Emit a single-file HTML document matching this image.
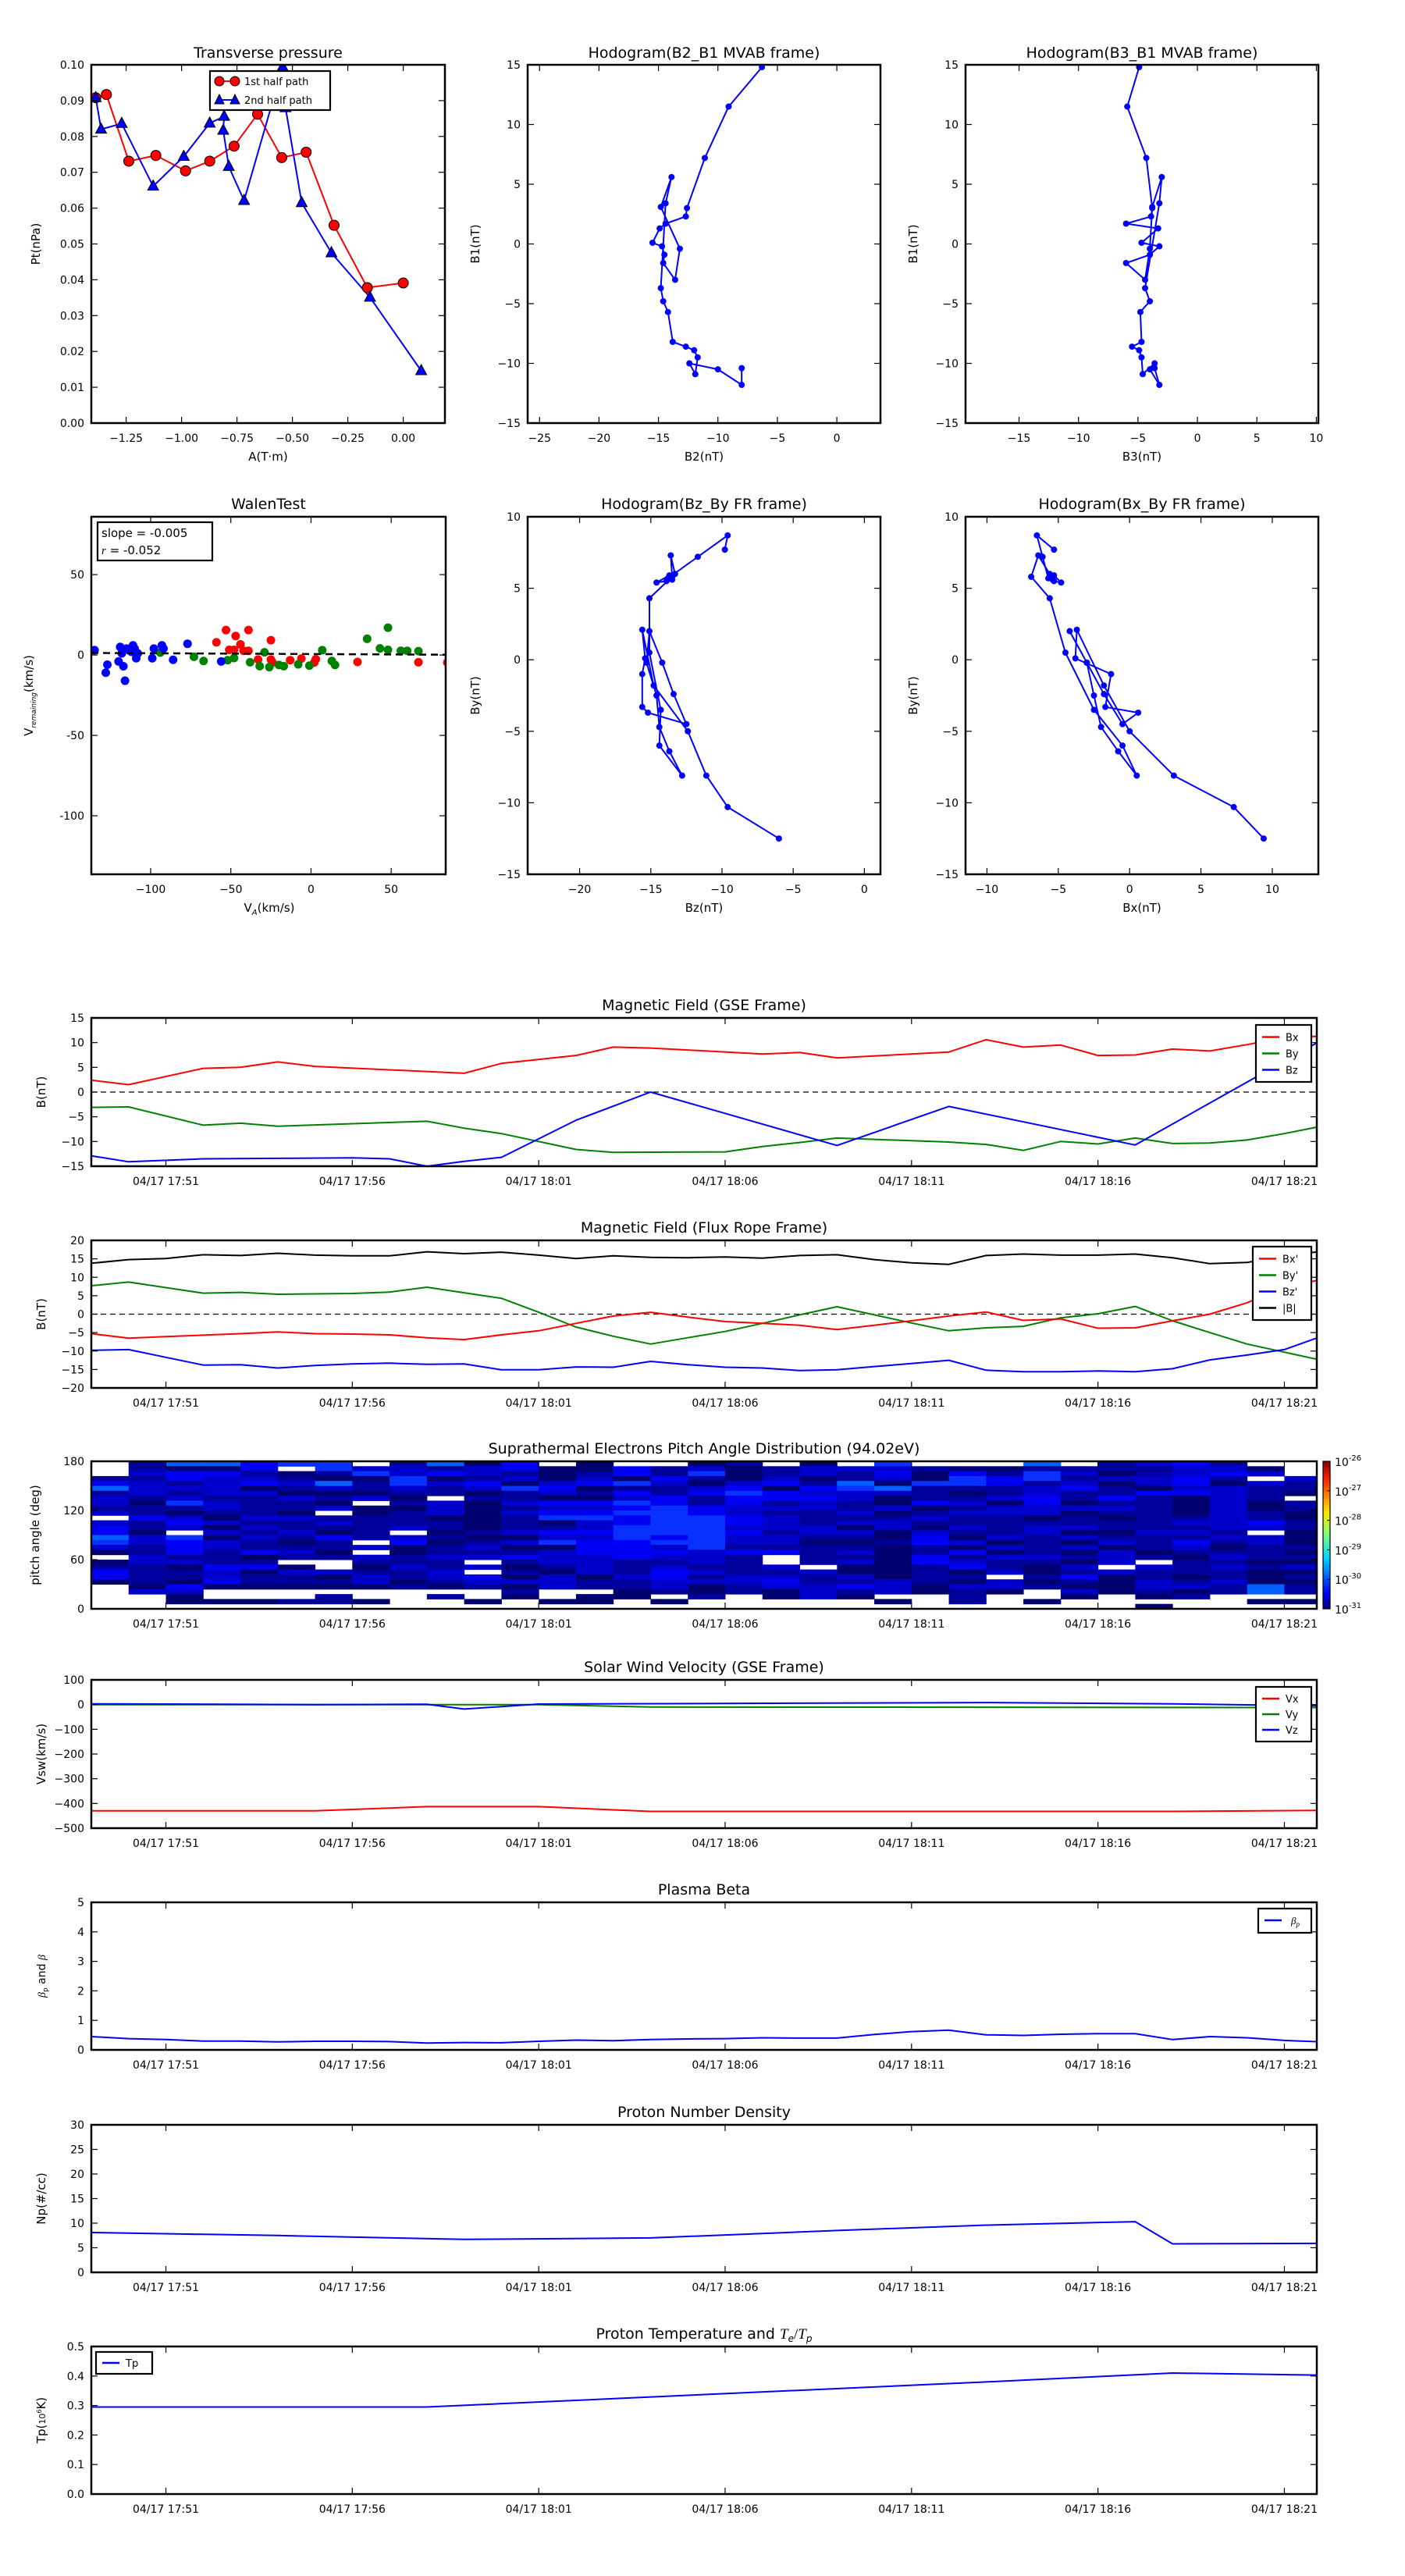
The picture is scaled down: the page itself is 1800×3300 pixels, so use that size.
<!DOCTYPE html>
<html><head><meta charset="utf-8"><title>Flux rope analysis</title>
<style>
html,body{margin:0;padding:0;background:#fff;}
svg{display:block;font-family:"DejaVu Sans","Liberation Sans",sans-serif;}
</style></head>
<body>
<svg id="chart" width="1800" height="3300" viewBox="0 0 1800 3300" xmlns="http://www.w3.org/2000/svg">
<defs>
<linearGradient id="jet" x1="0" y1="1" x2="0" y2="0">
<stop offset="0" stop-color="#00007f"/><stop offset="0.11" stop-color="#0000ff"/>
<stop offset="0.35" stop-color="#00d8ff"/><stop offset="0.5" stop-color="#7dff7a"/>
<stop offset="0.65" stop-color="#ffe600"/><stop offset="0.89" stop-color="#ff1a00"/>
<stop offset="1" stop-color="#7f0000"/>
</linearGradient>
</defs>
</svg>
<script>
// ---------- Data ----------
const a1 = [-1.387,-1.339,-1.238,-1.116,-0.982,-0.873,-0.763,-0.657,-0.548,-0.438,-0.312,-0.162,0.0];
const p1 = [0.0908,0.0917,0.0731,0.0747,0.0704,0.0731,0.0773,0.0862,0.0741,0.0756,0.0552,0.0378,0.0391];
const a2 = [-1.387,-1.363,-1.27,-1.128,-0.990,-0.873,-0.808,-0.812,-0.787,-0.718,-0.544,-0.531,-0.458,-0.324,-0.150,0.081];
const p2 = [0.0908,0.082,0.0836,0.0661,0.0744,0.0837,0.0856,0.0817,0.0716,0.0621,0.0994,0.088,0.0615,0.0475,0.0351,0.0146];
const mvB1 = [14.8,11.5,7.2,3.0,2.3,1.7,1.3,0.1,-0.2,-0.9,-1.6,-3.0,-0.4,3.1,5.6,3.4,-3.7,-4.8,-5.7,-8.2,-8.6,-8.9,-9.5,-10.9,-10.0,-10.5,-11.8,-10.4];
const mvB2 = [-6.3,-9.1,-11.1,-12.6,-12.7,-14.4,-14.9,-15.5,-14.7,-14.5,-14.6,-13.6,-13.2,-14.8,-13.9,-14.4,-14.8,-14.6,-14.2,-13.8,-12.7,-12.0,-11.7,-11.9,-12.4,-10.0,-8.0,-8.0];
const mvB3 = [-4.9,-5.9,-4.3,-3.8,-3.9,-6.0,-3.3,-4.7,-3.2,-4.0,-6.0,-4.4,-4.0,-3.8,-3.0,-3.2,-4.4,-4.0,-4.8,-4.7,-5.5,-4.9,-4.7,-4.6,-3.6,-4.0,-3.2,-3.6];
const waBlueVA = [-135,-127,-128,-120,-119,-118,-117,-116,-115,-113,-112,-111,-110,-109,-108,-99,-98,-93,-92,-86,-77,-56];
const waBlueVR = [3,-6,-11,-4,5,1,-7,-16,4,3,2,6,4,-2,1,-2,4,6,4,-3,7,-4];
const waRedVA = [-53,-39,-47,-59,-25,-44,-51,-48,-42,-39,-33,-25,-13,-6,3,2,29,67,85,-24];
const waRedVR = [15.5,15.5,11.8,7.9,9.2,6.6,3.2,3.2,2.6,2.6,-2.8,-2.8,-3.2,-2.2,-2.6,-4.7,-4.3,-4.5,-4.7,-4.7];
const waGreenVA = [-94,-73,-67,-52,-48,-38,-32,-29,-26,-20,-17,-8,-1,7,13,15,35,43,48,48,56,60,67];
const waGreenVR = [1.5,-1.1,-3.7,-3.2,-1.9,-4.5,-6.9,1.7,-7.5,-6.2,-6.9,-5.8,-6.6,3.0,-3.7,-6.2,10.1,4.1,17.0,3.2,2.6,2.6,2.4];
const walenSlope = -0.005, walenIntercept = 0.6;
const tickMinutes = [2,7,12,17,22,27,32];
const tickLabels = ['04/17 17:51','04/17 17:56','04/17 18:01','04/17 18:06','04/17 18:11','04/17 18:16','04/17 18:21'];
const tMin = [0,1,2,3,4,5,6,7,8,9,10,11,12,13,14,15,16,17,18,19,20,21,22,23,24,25,26,27,28,29,30,31,32,33];
const tBx = [0,1,3,4,5,6,10,11,13,14,15,18,19,20,23,24,25,26,27,28,29,30,31,32,33];
const gseBx = [2.4,1.5,4.8,5.0,6.1,5.2,3.8,5.8,7.4,9.1,8.9,7.7,8.0,6.9,8.1,10.6,9.1,9.5,7.4,7.5,8.7,8.3,9.6,11.0,11.3];
const tBy = [0,1,3,4,5,9,10,11,13,14,17,18,19,20,23,24,25,26,27,28,29,30,31,32,33];
const gseBy = [-3.1,-3.0,-6.7,-6.3,-6.9,-5.9,-7.3,-8.4,-11.6,-12.2,-12.1,-11,-10.2,-9.3,-10.1,-10.6,-11.8,-10,-10.5,-9.3,-10.4,-10.3,-9.7,-8.4,-6.9];
const tBz = [0,1,3,5,7,8,9,10,11,13,15,20,23,28,33];
const gseBz = [-12.9,-14.1,-13.5,-13.4,-13.3,-13.5,-15,-14,-13.2,-5.7,0,-10.8,-2.9,-10.7,10.5];
const frBx = [-5.3,-6.5,-6.1,-5.7,-5.3,-4.8,-5.3,-5.4,-5.6,-6.4,-6.9,-5.6,-4.5,-2.5,-0.5,0.5,-0.8,-2.0,-2.5,-3.0,-4.2,-3.0,-1.8,-0.5,0.6,-1.7,-1.3,-3.8,-3.7,-1.8,0.0,3.1,7.3,9.4];
const frBy = [7.7,8.7,7.2,5.7,5.9,5.4,5.5,5.6,6.0,7.3,5.8,4.3,0.5,-3.5,-6.0,-8.1,-6.4,-4.7,-2.5,-0.2,2.0,-0.2,-2.4,-4.5,-3.7,-3.3,-1.0,0.1,2.1,-1.8,-5.0,-8.1,-10.3,-12.5];
const frBz = [-9.8,-9.6,-11.7,-13.8,-13.7,-14.6,-13.9,-13.5,-13.3,-13.6,-13.5,-15.1,-15.1,-14.3,-14.4,-12.8,-13.7,-14.4,-14.6,-15.3,-15.1,-14.2,-13.4,-12.5,-15.2,-15.6,-15.6,-15.4,-15.6,-14.8,-12.4,-11.1,-9.6,-6.0];
const frBt = [13.8,14.8,15.1,16.1,15.9,16.5,16.0,15.8,15.8,16.9,16.4,16.8,16.0,15.1,15.8,15.4,15.3,15.5,15.2,15.9,16.1,14.8,13.9,13.5,15.9,16.3,16.0,16.0,16.3,15.3,13.7,14.0,15.9,17.0];
const padRows = [
".155344.1503.0..01.0.4...5.1231..",
".1003.42212300312012221001111220.",
".2331014232101314012130314201232.",
"1132210040120203102012043412231.2",
"321232514230234202315044312023021",
"522201212124301123034511123102211",
"121220001101213134322210121133210",
"212112120.1100231333201123131021.",
"2042110.1202334313121032030110201",
"111211200201223432221201222210201",
"210110.0120233443211201222011021",
".3202211100144344321112110101121",
"213211211101023443212211111112231",
"312021112101124442220202122111221",
"30.21201.0123344431220211200221.0",
"524021312100224342211030212111220",
"4232101.301243344220013201021312",
"213211120120033241111010212012011",
"0131320.011123332331201301020111",
".21101121223223221.11031221210211",
"02211..111.1221121.120321102.110",
"110330.021201212112.0013102.21212",
"3112022112.102132112001020121110",
"311211021230202312212011.13010101",
"010311120122211222311210201021200",
".03000001010211201223202210022151",
".22........1..01010212010.2010151",
"..0...1..1.0.00.1.020..1..0.01...",
"..000110..0.00.0.....0.1.0.....00",
"............................0...."
];
const padColors = {'0':'#00006e','1':'#00009c','2':'#0000cc','3':'#0000f4','4':'#0830ff','5':'#0060ff'};
const cbarExps = ['-26','-27','-28','-29','-30','-31'];
const tVx = [0,6,9,12,15,29,33];
const vx = [-430,-430,-413,-413,-432,-432,-428];
const tVy = [0,12,15,33];
const vy = [0,0,-10,-12];
const tVz = [0,6,9,10,12,24,29,33];
const vz = [3,0,1,-18,2,8,3,-5];
const betaP = [0.45,0.38,0.35,0.30,0.30,0.27,0.29,0.29,0.28,0.23,0.25,0.24,0.29,0.33,0.31,0.35,0.37,0.38,0.41,0.40,0.40,0.52,0.62,0.67,0.51,0.49,0.53,0.55,0.55,0.35,0.45,0.41,0.32,0.27];
const tNp = [0,5,10,15,20,24,28,29,33];
const np = [8.1,7.5,6.7,7.0,8.5,9.6,10.3,5.8,5.9];
const tTp = [0,9,24,29,33];
const tp = [0.295,0.295,0.38,0.41,0.403];

// ---------- helpers ----------
const NS = 'http://www.w3.org/2000/svg';
const svg = document.getElementById('chart');
const TR = 1687, TMAX = 32.87;
function mk(tag, attrs, parent){
  const e = document.createElementNS(NS, tag);
  for (const k in attrs) e.setAttribute(k, attrs[k]);
  (parent || svg).appendChild(e);
  return e;
}
let clipId = 0;
function axes(name, L, T, R, B, xmin, xmax, ymin, ymax){
  const g = mk('g', {});
  
  
  const id = 'clip' + (clipId++);
  const cp = mk('clipPath', {id: id}, g);
  mk('rect', {x: L, y: T, width: R - L, height: B - T}, cp);
  const dg = mk('g', {'clip-path': 'url(#' + id + ')'}, g);
  
  
  return {g, dg, L, T, R, B,
    sx: v => L + (v - xmin) / (xmax - xmin) * (R - L),
    sy: v => B - (v - ymin) / (ymax - ymin) * (B - T)};
}
function frame(ax){
  const r = mk('rect', {x: ax.L, y: ax.T, width: ax.R - ax.L, height: ax.B - ax.T, fill: 'none', stroke: '#000', 'stroke-width': 2.5}, ax.g);
  
  
}
function xticks(ax, vals, labels){
  vals.forEach((v, i) => {
    const x = ax.sx(v);
    mk('line', {x1: x, y1: ax.B, x2: x, y2: ax.B - 8, stroke: '#000', 'stroke-width': 1.2}, ax.g);
    mk('line', {x1: x, y1: ax.T, x2: x, y2: ax.T + 8, stroke: '#000', 'stroke-width': 1.2}, ax.g);
    const t = mk('text', {x: x, y: ax.B + 24, 'text-anchor': 'middle', 'font-size': 14}, ax.g);
    t.textContent = labels[i];
    
    
  });
}
function yticks(ax, vals, labels){
  vals.forEach((v, i) => {
    const y = ax.sy(v);
    mk('line', {x1: ax.L, y1: y, x2: ax.L + 8, y2: y, stroke: '#000', 'stroke-width': 1.2}, ax.g);
    mk('line', {x1: ax.R, y1: y, x2: ax.R - 8, y2: y, stroke: '#000', 'stroke-width': 1.2}, ax.g);
    const t = mk('text', {x: ax.L - 9, y: y + 5, 'text-anchor': 'end', 'font-size': 14}, ax.g);
    t.textContent = labels[i];
    
    
  });
}
function range(a, b, s){ const r = []; for (let v = a; v <= b + 1e-9; v += s) r.push(Math.round(v * 1000) / 1000); return r; }
function minusFmt(d){ return v => (v < 0 ? '\u2212' : '') + Math.abs(v).toFixed(d); }
function title(ax, text, y){
  const t = mk('text', {x: (ax.L + ax.R) / 2, y: y, 'text-anchor': 'middle', 'font-size': 19}, ax.g);
  t.textContent = text;
  
  
  return t;
}
function xlabel(ax, text, y){
  const t = mk('text', {x: (ax.L + ax.R) / 2, y: y, 'text-anchor': 'middle', 'font-size': 15}, ax.g);
  t.textContent = text;
  
  
  return t;
}
function ylabel(ax, text, x){
  const cy = (ax.T + ax.B) / 2;
  const t = mk('text', {x: x, y: cy, 'text-anchor': 'middle', 'font-size': 15, transform: 'rotate(-90 ' + x + ' ' + cy + ')'}, ax.g);
  t.textContent = text;
  
  
  return t;
}
function line(ax, xs, ys, color, w, name){
  const pts = xs.map((x, i) => ax.sx(x).toFixed(1) + ',' + ax.sy(ys[i]).toFixed(1)).join(' ');
  const p = mk('polyline', {points: pts, fill: 'none', stroke: color, 'stroke-width': w, 'stroke-linejoin': 'round'}, ax.dg);
  
  
  return p;
}
function dots(ax, xs, ys, color, r, name){
  xs.forEach((x, i) => {
    const c = mk('circle', {cx: ax.sx(x), cy: ax.sy(ys[i]), r: r, fill: color, stroke: 'none'}, ax.dg);
    
    
  });
}
function zeroLine(ax){
  const l = mk('line', {x1: ax.L, x2: ax.R, y1: ax.sy(0), y2: ax.sy(0), stroke: '#000', 'stroke-width': 1.2, 'stroke-dasharray': '7,5'}, ax.dg);
  
  
}
function legend(ax, x, y, w, entries, rowH){
  const g = mk('g', {}, ax.g);
  
  
  mk('rect', {x: x, y: y, width: w, height: entries.length * rowH + 10, fill: '#fff', stroke: '#000', 'stroke-width': 2.2}, g);
  entries.forEach((e, i) => {
    const cy = y + 5 + rowH * (i + 0.5);
    const eg = mk('g', {}, g);
    
    
    mk('line', {x1: x + 8, x2: x + 30, y1: cy, y2: cy, stroke: e.c, 'stroke-width': 2.5}, eg);
    const t = mk('text', {x: x + 38, y: cy + 5, 'font-size': 13}, eg);
    t.textContent = e.t;
  });
}
function timeAxes(name, T, B, ymin, ymax, yt, ylab, titleText){
  const ax = axes(name, 117, T, TR, B, 0, TMAX, ymin, ymax);
  xticks(ax, tickMinutes, tickLabels);
  yticks(ax, yt, yt.map(minusFmt(0)));
  ylabel(ax, ylab, 58);
  title(ax, titleText, T - 10);
  return ax;
}

// ---------- Row 1 ----------
(function(){
  const ax = axes('transverse-pressure-panel', 117, 83, 570, 542, -1.407, 0.188, 0, 0.10);
  line(ax, a1, p1, '#ff0000', 2, 'first-half-line');
  line(ax, a2, p2, '#0000ff', 2, 'second-half-line');
  a1.forEach((a, i) => {
    const c = mk('circle', {cx: ax.sx(a), cy: ax.sy(p1[i]), r: 6.5, fill: '#ff0000', stroke: '#000', 'stroke-width': 1}, ax.dg);
    
    
  });
  a2.forEach((a, i) => {
    const x = ax.sx(a), y = ax.sy(p2[i]);
    const t = mk('polygon', {points: [x, y - 8, x - 7, y + 5, x + 7, y + 5].join(','), fill: '#0000ff', stroke: '#000', 'stroke-width': 1}, ax.dg);
    
    
  });
  xticks(ax, [-1.25, -1.0, -0.75, -0.5, -0.25, 0], [-1.25, -1.0, -0.75, -0.5, -0.25, 0].map(minusFmt(2)));
  const yv = range(0, 0.1, 0.01);
  yticks(ax, yv, yv.map(v => v.toFixed(2)));
  ylabel(ax, 'Pt(nPa)', 51);
  xlabel(ax, 'A(T\u00b7m)', 590);
  title(ax, 'Transverse pressure', 74);
  const lg = mk('g', {}, ax.g);
  
  
  mk('rect', {x: 269, y: 91, width: 154, height: 50, fill: '#fff', stroke: '#000', 'stroke-width': 2.2}, lg);
  mk('line', {x1: 281, x2: 301, y1: 104, y2: 104, stroke: '#f00', 'stroke-width': 2}, lg);
  mk('circle', {cx: 281, cy: 104, r: 6, fill: '#f00', stroke: '#000'}, lg);
  mk('circle', {cx: 301, cy: 104, r: 6, fill: '#f00', stroke: '#000'}, lg);
  const t1 = mk('text', {x: 313, y: 109, 'font-size': 13}, lg); t1.textContent = '1st half path';
  mk('line', {x1: 281, x2: 301, y1: 128, y2: 128, stroke: '#00f', 'stroke-width': 2}, lg);
  mk('polygon', {points: '281,121 275,133 287,133', fill: '#00f', stroke: '#000'}, lg);
  mk('polygon', {points: '301,121 295,133 307,133', fill: '#00f', stroke: '#000'}, lg);
  const t2 = mk('text', {x: 313, y: 133, 'font-size': 13}, lg); t2.textContent = '2nd half path';
  frame(ax);
})();
(function(){
  const ax = axes('hodogram-b2-b1-panel', 676, 83, 1128, 542, -26, 3.67, -15, 15);
  line(ax, mvB2, mvB1, '#0000ff', 2, 'hodogram-b2-b1-line');
  dots(ax, mvB2, mvB1, '#0000ff', 4, 'hodogram-b2-b1-point');
  const xv = [-25, -20, -15, -10, -5, 0];
  xticks(ax, xv, xv.map(minusFmt(0)));
  const yv = [-15, -10, -5, 0, 5, 10, 15];
  yticks(ax, yv, yv.map(minusFmt(0)));
  ylabel(ax, 'B1(nT)', 614);
  xlabel(ax, 'B2(nT)', 590);
  title(ax, 'Hodogram(B2_B1 MVAB frame)', 74);
  frame(ax);
})();
(function(){
  const ax = axes('hodogram-b3-b1-panel', 1237, 83, 1689, 542, -19.5, 10.17, -15, 15);
  line(ax, mvB3, mvB1, '#0000ff', 2, 'hodogram-b3-b1-line');
  dots(ax, mvB3, mvB1, '#0000ff', 4, 'hodogram-b3-b1-point');
  const xv = [-15, -10, -5, 0, 5, 10];
  xticks(ax, xv, xv.map(minusFmt(0)));
  const yv = [-15, -10, -5, 0, 5, 10, 15];
  yticks(ax, yv, yv.map(minusFmt(0)));
  ylabel(ax, 'B1(nT)', 1175);
  xlabel(ax, 'B3(nT)', 590);
  title(ax, 'Hodogram(B3_B1 MVAB frame)', 74);
  frame(ax);
})();

// ---------- Row 2 ----------
(function(){
  const ax = axes('walen-test-panel', 117, 662, 571, 1120, -137, 84, -136.4, 86);
  dots(ax, waRedVA, waRedVR, '#ff0000', 5.5, 'walen-red-point');
  dots(ax, waGreenVA, waGreenVR, '#008000', 5.5, 'walen-green-point');
  dots(ax, waBlueVA, waBlueVR, '#0000ff', 5.5, 'walen-blue-point');
  const fl = mk('line', {x1: ax.sx(-137), y1: ax.sy(walenIntercept + walenSlope * -137), x2: ax.sx(85), y2: ax.sy(walenIntercept + walenSlope * 85), stroke: '#000', 'stroke-width': 2.5, 'stroke-dasharray': '9,6'}, ax.dg);
  
  
  const xv = [-100, -50, 0, 50];
  xticks(ax, xv, xv.map(minusFmt(0)));
  yticks(ax, [-100, -50, 0, 50], ['-100', '-50', '0', '50']);
  const cy = (662 + 1120) / 2;
  const yl = mk('text', {x: 42, y: cy, 'text-anchor': 'middle', 'font-size': 15, transform: 'rotate(-90 42 ' + cy + ')'}, ax.g);
  
  
  yl.innerHTML = 'V<tspan font-size="9" font-style="italic" dy="4">remaining</tspan><tspan dy="-4">(km/s)</tspan>';
  const xl = mk('text', {x: 345, y: 1168, 'text-anchor': 'middle', 'font-size': 15}, ax.g);
  
  
  xl.innerHTML = 'V<tspan font-size="10" font-style="italic" dy="4">A</tspan><tspan dy="-4">(km/s)</tspan>';
  title(ax, 'WalenTest', 652);
  const bg = mk('g', {}, ax.g);
  
  
  mk('rect', {x: 125, y: 669, width: 147, height: 49, fill: '#fff', stroke: '#000', 'stroke-width': 2.2}, bg);
  const s1 = mk('text', {x: 130, y: 688, 'font-size': 15}, bg); s1.textContent = 'slope = -0.005';
  const s2 = mk('text', {x: 130, y: 710, 'font-size': 15}, bg); s2.innerHTML = '<tspan font-style="italic" font-family="Liberation Serif, serif">r</tspan> = -0.052';
  frame(ax);
})();
(function(){
  const ax = axes('hodogram-bz-by-panel', 676, 662, 1128, 1120, -23.65, 1.13, -15, 10);
  line(ax, frBz, frBy, '#0000ff', 2, 'hodogram-bz-by-line');
  dots(ax, frBz, frBy, '#0000ff', 4, 'hodogram-bz-by-point');
  const xv = [-20, -15, -10, -5, 0];
  xticks(ax, xv, xv.map(minusFmt(0)));
  const yv = [-15, -10, -5, 0, 5, 10];
  yticks(ax, yv, yv.map(minusFmt(0)));
  ylabel(ax, 'By(nT)', 614);
  xlabel(ax, 'Bz(nT)', 1168);
  title(ax, 'Hodogram(Bz_By FR frame)', 652);
  frame(ax);
})();
(function(){
  const ax = axes('hodogram-bx-by-panel', 1237, 662, 1689, 1120, -11.5, 13.23, -15, 10);
  line(ax, frBx, frBy, '#0000ff', 2, 'hodogram-bx-by-line');
  dots(ax, frBx, frBy, '#0000ff', 4, 'hodogram-bx-by-point');
  const xv = [-10, -5, 0, 5, 10];
  xticks(ax, xv, xv.map(minusFmt(0)));
  const yv = [-15, -10, -5, 0, 5, 10];
  yticks(ax, yv, yv.map(minusFmt(0)));
  ylabel(ax, 'By(nT)', 1175);
  xlabel(ax, 'Bx(nT)', 1168);
  title(ax, 'Hodogram(Bx_By FR frame)', 652);
  frame(ax);
})();

// ---------- Time series ----------
(function(){
  const ax = timeAxes('gse-field-panel', 1304, 1494, -15, 15, [-15, -10, -5, 0, 5, 10, 15], 'B(nT)', 'Magnetic Field (GSE Frame)');
  zeroLine(ax);
  line(ax, tBx, gseBx, '#ff0000', 2, 'bx-line');
  line(ax, tBy, gseBy, '#008000', 2, 'by-line');
  line(ax, tBz, gseBz, '#0000ff', 2, 'bz-line');
  legend(ax, 1609, 1313, 71, [{t: 'Bx', c: '#f00'}, {t: 'By', c: '#008000'}, {t: 'Bz', c: '#00f'}], 21);
  frame(ax);
})();
(function(){
  const ax = timeAxes('flux-rope-field-panel', 1589, 1778, -20, 20, [-20, -15, -10, -5, 0, 5, 10, 15, 20], 'B(nT)', 'Magnetic Field (Flux Rope Frame)');
  zeroLine(ax);
  line(ax, tMin, frBt, '#000000', 2, 'bt-line');
  line(ax, tMin, frBy, '#008000', 2, 'by-prime-line');
  line(ax, tMin, frBx, '#ff0000', 2, 'bx-prime-line');
  line(ax, tMin, frBz, '#0000ff', 2, 'bz-prime-line');
  legend(ax, 1605, 1597, 75, [{t: "Bx'", c: '#f00'}, {t: "By'", c: '#008000'}, {t: "Bz'", c: '#00f'}, {t: '|B|', c: '#000'}], 21);
  frame(ax);
})();
(function(){
  const ax = axes('pitch-angle-panel', 117, 1872, TR, 2061, 0, TMAX, 0, 180);
  const nr = padRows.length;
  padRows.forEach((row, r) => {
    for (let k = 0; k < 33; k++){
      const ch = row.charAt(k) || '0';
      if (ch === '.') continue;
      const y1 = ax.sy(180 - 180 / nr * r), y2 = ax.sy(180 - 180 / nr * (r + 1));
      const c = mk('rect', {x: ax.sx(k), y: y1, width: ax.sx(k + 1) - ax.sx(k) + 0.5, height: y2 - y1 + 0.5, fill: padColors[ch] || '#00006e'}, ax.dg);
      
      
    }
  });
  xticks(ax, tickMinutes, tickLabels);
  yticks(ax, [0, 60, 120, 180], ['0', '60', '120', '180']);
  ylabel(ax, 'pitch angle (deg)', 50);
  title(ax, 'Suprathermal Electrons Pitch Angle Distribution (94.02eV)', 1862);
  frame(ax);
  const cb = mk('g', {});
  
  
  mk('rect', {x: 1695, y: 1872, width: 9, height: 189, fill: 'url(#jet)', stroke: '#000', 'stroke-width': 1.2}, cb);
  cbarExps.forEach((e, i) => {
    const y = 1872 + i * 189 / (cbarExps.length - 1);
    mk('line', {x1: 1700, x2: 1704, y1: y, y2: y, stroke: '#000'}, cb);
    const t = mk('text', {x: 1710, y: y + 6, 'font-size': 14}, cb);
    t.innerHTML = '10<tspan font-size="10" dy="-7">' + e + '</tspan>';
    
    
  });
})();
(function(){
  const ax = timeAxes('solar-wind-velocity-panel', 2152, 2342, -500, 100, [-500, -400, -300, -200, -100, 0, 100], 'Vsw(km/s)', 'Solar Wind Velocity (GSE Frame)');
  line(ax, tVx, vx, '#ff0000', 2, 'vx-line');
  line(ax, tVy, vy, '#008000', 2, 'vy-line');
  line(ax, tVz, vz, '#0000ff', 2, 'vz-line');
  legend(ax, 1609, 2161, 71, [{t: 'Vx', c: '#f00'}, {t: 'Vy', c: '#008000'}, {t: 'Vz', c: '#00f'}], 20);
  frame(ax);
})();
(function(){
  const ax = timeAxes('plasma-beta-panel', 2437, 2626, 0, 5, [0, 1, 2, 3, 4, 5], '', 'Plasma Beta');
  line(ax, tMin, betaP, '#0000ff', 2, 'beta-p-line');
  const cy = (2437 + 2626) / 2;
  const yl = mk('text', {x: 58, y: cy, 'text-anchor': 'middle', 'font-size': 14, transform: 'rotate(-90 58 ' + cy + ')'}, ax.g);
  
  
  yl.innerHTML = '<tspan font-style="italic" font-family="Liberation Serif, serif">\u03b2</tspan><tspan font-size="9" dy="3">p</tspan><tspan dy="-3"> and </tspan><tspan font-style="italic" font-family="Liberation Serif, serif">\u03b2</tspan>';
  const lg = mk('g', {}, ax.g);
  
  
  mk('rect', {x: 1612, y: 2445, width: 68, height: 31, fill: '#fff', stroke: '#000', 'stroke-width': 2.2}, lg);
  mk('line', {x1: 1620, x2: 1642, y1: 2460, y2: 2460, stroke: '#00f', 'stroke-width': 2.5}, lg);
  const lt = mk('text', {x: 1654, y: 2465, 'font-size': 13, 'font-style': 'italic', 'font-family': 'Liberation Serif, serif'}, lg);
  lt.innerHTML = '\u03b2<tspan font-size="9" dy="3">p</tspan>';
  frame(ax);
})();
(function(){
  const ax = timeAxes('proton-density-panel', 2722, 2911, 0, 30, [0, 5, 10, 15, 20, 25, 30], 'Np(#/cc)', 'Proton Number Density');
  line(ax, tNp, np, '#0000ff', 2, 'np-line');
  frame(ax);
})();
(function(){
  const ax = axes('proton-temperature-panel', 117, 3006, TR, 3195, 0, TMAX, 0, 0.5);
  xticks(ax, tickMinutes, tickLabels);
  const yv = [0, 0.1, 0.2, 0.3, 0.4, 0.5];
  yticks(ax, yv, yv.map(v => v.toFixed(1)));
  line(ax, tTp, tp, '#0000ff', 2, 'tp-line');
  const cy = (3006 + 3195) / 2;
  const yl = mk('text', {x: 58, y: cy, 'text-anchor': 'middle', 'font-size': 15, transform: 'rotate(-90 58 ' + cy + ')'}, ax.g);
  
  
  yl.innerHTML = 'Tp(<tspan font-size="11">10</tspan><tspan font-size="8" dy="-5">6</tspan><tspan dy="5">K)</tspan>';
  const tt = mk('text', {x: (117 + TR) / 2, y: 2996, 'text-anchor': 'middle', 'font-size': 19}, ax.g);
  
  
  tt.innerHTML = 'Proton Temperature and <tspan font-style="italic" font-family="Liberation Serif, serif">T</tspan><tspan font-size="12" font-style="italic" dy="4">e</tspan><tspan dy="-4" font-family="Liberation Serif, serif">/</tspan><tspan font-style="italic" font-family="Liberation Serif, serif">T</tspan><tspan font-size="12" font-style="italic" dy="4">p</tspan>';
  legend(ax, 123, 3013, 72, [{t: 'Tp', c: '#00f'}], 18);
  frame(ax);
})();
</script>
</body></html>
